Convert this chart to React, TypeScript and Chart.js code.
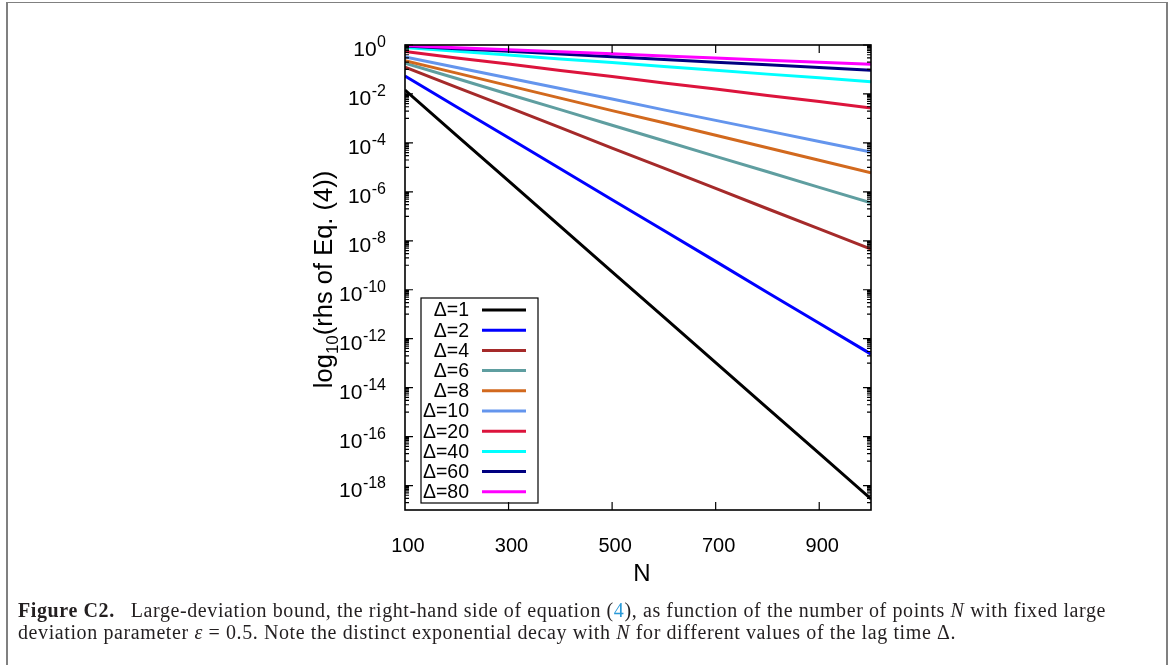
import React, { useEffect, useRef } from "react";
import { Chart, registerables } from "chart.js";

Chart.register(...registerables);

const nValues = [100, 200, 300, 400, 500, 600, 700, 800, 900, 1000];

// log10 of the right-hand side of Eq. (4)
const logDelta1 = [-1.84, -3.7, -5.55, -7.41, -9.27, -11.12, -12.98, -14.84, -16.69, -18.55];
const logDelta2 = [-1.27, -2.53, -3.79, -5.06, -6.32, -7.58, -8.84, -10.11, -11.37, -12.63];
const logDelta4 = [-0.9, -1.73, -2.55, -3.38, -4.21, -5.03, -5.86, -6.69, -7.51, -8.34];
const logDelta6 = [-0.74, -1.37, -2.01, -2.64, -3.28, -3.91, -4.55, -5.18, -5.82, -6.45];
const logDelta8 = [-0.64, -1.15, -1.66, -2.17, -2.68, -3.18, -3.69, -4.2, -4.71, -5.22];
const logDelta10 = [-0.49, -0.92, -1.35, -1.78, -2.21, -2.65, -3.08, -3.51, -3.94, -4.37];
const logDelta20 = [-0.27, -0.53, -0.78, -1.04, -1.29, -1.55, -1.8, -2.06, -2.31, -2.57];
const logDelta40 = [-0.1, -0.26, -0.41, -0.57, -0.72, -0.88, -1.03, -1.19, -1.34, -1.5];
const logDelta60 = [-0.04, -0.15, -0.26, -0.37, -0.48, -0.59, -0.7, -0.81, -0.92, -1.03];
const logDelta80 = [-0.02, -0.11, -0.19, -0.28, -0.36, -0.45, -0.53, -0.62, -0.7, -0.79];

const seriesLogs = [
  logDelta1, logDelta2, logDelta4, logDelta6, logDelta8,
  logDelta10, logDelta20, logDelta40, logDelta60, logDelta80,
];
const deltaLabels = ["Δ=1", "Δ=2", "Δ=4", "Δ=6", "Δ=8", "Δ=10", "Δ=20", "Δ=40", "Δ=60", "Δ=80"];
const seriesColors = [
  "#000000", "#0000ff", "#a52a2a", "#5f9ea0", "#d2691e",
  "#6495ed", "#dc143c", "#00ffff", "#000080", "#ff00ff",
];

const xTickValues = [100, 300, 500, 700, 900];
const yTickExponents = [0, -2, -4, -6, -8, -10, -12, -14, -16, -18];
const xMin = 100;
const xMax = 1000;
const yMin = 1e-19;
const yMax = 1;

const SANS = '"Liberation Sans", Arial, Helvetica, sans-serif';

const framePlugin = {
  id: "gnuplotFrame",
  afterDatasetsDraw(chart: any) {
    const { ctx, chartArea: a, scales } = chart;
    const xs = scales.x;
    const ys = scales.y;
    ctx.save();

    // border
    ctx.strokeStyle = "#000";
    ctx.lineWidth = 1.6;
    ctx.strokeRect(a.left, a.top, a.right - a.left, a.bottom - a.top);

    // ticks
    ctx.lineWidth = 1.2;
    ctx.beginPath();
    const majorLen = 8;
    const minorLen = 4;
    for (const v of xTickValues) {
      const px = xs.getPixelForValue(v);
      if (px <= a.left + 1) continue;
      ctx.moveTo(px, a.bottom);
      ctx.lineTo(px, a.bottom - majorLen);
      ctx.moveTo(px, a.top);
      ctx.lineTo(px, a.top + majorLen);
    }
    for (const e of yTickExponents) {
      const py = ys.getPixelForValue(Math.pow(10, e));
      ctx.moveTo(a.left, py);
      ctx.lineTo(a.left + majorLen, py);
      ctx.moveTo(a.right, py);
      ctx.lineTo(a.right - majorLen, py);
      for (let j = 1; j <= 9; j++) {
        const val = j * Math.pow(10, e - 1);
        if (val <= yMin * 1.0001) continue;
        const my = ys.getPixelForValue(val);
        ctx.moveTo(a.left, my);
        ctx.lineTo(a.left + minorLen, my);
        ctx.moveTo(a.right, my);
        ctx.lineTo(a.right - minorLen, my);
      }
    }
    ctx.stroke();

    // x tick labels
    ctx.fillStyle = "#000";
    ctx.font = `20px ${SANS}`;
    ctx.textAlign = "center";
    ctx.textBaseline = "alphabetic";
    for (const v of xTickValues) {
      const px = xs.getPixelForValue(v);
      ctx.fillText(String(v), px + 3, a.bottom + 42);
    }

    // y tick labels: 10^e
    const labelRight = a.left - 19;
    for (const e of yTickExponents) {
      const py = ys.getPixelForValue(Math.pow(10, e));
      ctx.font = `16px ${SANS}`;
      ctx.textAlign = "right";
      const expStr = String(e);
      const expW = ctx.measureText(expStr).width;
      ctx.fillText(expStr, labelRight, py + 2);
      ctx.font = `21px ${SANS}`;
      ctx.fillText("10", labelRight - expW - 0.5, py + 11);
    }

    // x axis title
    ctx.font = `24px ${SANS}`;
    ctx.textAlign = "center";
    ctx.fillText("N", (a.left + a.right) / 2 + 4, a.bottom + 71);

    // y axis title (rotated) with subscript
    ctx.save();
    ctx.translate(332, (a.top + a.bottom) / 2 + 2);
    ctx.rotate(-Math.PI / 2);
    ctx.textAlign = "left";
    const big = `25.5px ${SANS}`;
    const small = `17px ${SANS}`;
    ctx.font = big;
    const w1 = ctx.measureText("log").width;
    const w3 = ctx.measureText("(rhs of Eq. (4))").width;
    ctx.font = small;
    const w2 = ctx.measureText("10").width;
    const total = w1 + w2 + w3;
    let x0 = -total / 2;
    ctx.font = big;
    ctx.fillText("log", x0, 0);
    x0 += w1;
    ctx.font = small;
    ctx.fillText("10", x0, 6);
    x0 += w2;
    ctx.font = big;
    ctx.fillText("(rhs of Eq. (4))", x0, 0);
    ctx.restore();

    // legend box
    const boxL = a.left + 16;
    const boxT = a.top + 253;
    const boxW = 117;
    const boxH = 205;
    ctx.lineWidth = 1.2;
    ctx.strokeStyle = "#000";
    ctx.strokeRect(boxL, boxT, boxW, boxH);
    ctx.font = `19.5px ${SANS}`;
    ctx.textAlign = "right";
    ctx.textBaseline = "middle";
    for (let i = 0; i < deltaLabels.length; i++) {
      const cy = boxT + 12 + i * 20.2;
      ctx.fillStyle = "#000";
      ctx.fillText(deltaLabels[i], boxL + 48, cy + 1);
      ctx.strokeStyle = seriesColors[i];
      ctx.lineWidth = 3;
      ctx.beginPath();
      ctx.moveTo(boxL + 61, cy);
      ctx.lineTo(boxL + 105, cy);
      ctx.stroke();
    }

    ctx.restore();
  },
};

export default function App() {
  const canvasRef = useRef<HTMLCanvasElement>(null);

  useEffect(() => {
    const canvas = canvasRef.current;
    if (!canvas) return;
    const datasets = seriesLogs.map((logs, i) => ({
      label: deltaLabels[i],
      data: nValues.map((n, k) => ({ x: n, y: Math.pow(10, logs[k]) })),
      borderColor: seriesColors[i],
      backgroundColor: seriesColors[i],
      borderWidth: 3,
      pointRadius: 0,
      fill: false,
      tension: 0,
      order: seriesLogs.length - 1 - i,
    }));
    const chart = new Chart(canvas, {
      type: "line",
      data: { datasets },
      options: {
        animation: false,
        responsive: false,
        devicePixelRatio: 1,
        events: [],
        layout: { padding: { left: 405, right: 303, top: 45, bottom: 155 } },
        plugins: { legend: { display: false }, tooltip: { enabled: false } },
        scales: {
          x: { type: "linear", min: xMin, max: xMax, display: false },
          y: { type: "logarithmic", min: yMin, max: yMax, display: false },
        },
      },
      plugins: [framePlugin],
    } as any);
    return () => chart.destroy();
  }, []);

  const serif = '"Liberation Serif", "Times New Roman", serif';

  return (
    <div style={{ position: "absolute", left: 0, top: 0, width: 1174, height: 665, overflow: "hidden", background: "#fff" }}>
      <div
        style={{
          position: "absolute",
          left: 6,
          top: 2,
          width: 1158,
          height: 700,
          borderLeft: "2px solid #808080",
          borderRight: "2px solid #808080",
          borderTop: "1px solid #808080",
        }}
      />
      <canvas ref={canvasRef} width={1174} height={665} style={{ position: "absolute", left: 0, top: 0 }} />
      <div
        style={{
          position: "absolute",
          left: 18,
          top: 599,
          fontFamily: serif,
          fontSize: 20,
          letterSpacing: "0.6px",
          lineHeight: "22px",
          color: "#231f20",
          whiteSpace: "nowrap",
        }}
      >
        <div>
          <b>Figure C2.</b>
          <span style={{ display: "inline-block", width: 16 }} />
          Large-deviation bound, the right-hand side of equation (
          <span style={{ color: "#2a9ad8" }}>4</span>), as function of the number of points <i>N</i> with fixed large
        </div>
        <div>
          deviation parameter <i>ε</i> = 0.5. Note the distinct exponential decay with <i>N</i> for different values of the lag time Δ.
        </div>
      </div>
    </div>
  );
}
